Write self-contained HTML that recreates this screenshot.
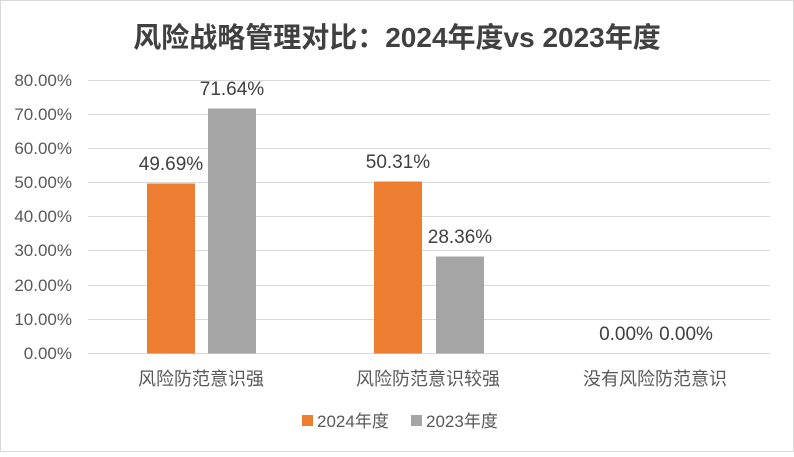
<!DOCTYPE html><html><head><meta charset="utf-8"><style>
body{margin:0;background:#fff}
svg text{font-family:"Liberation Sans","Noto Sans CJK SC",sans-serif;fill:#595959}
</style></head><body>
<svg width="794" height="452" xmlns="http://www.w3.org/2000/svg">
<rect x="0.5" y="0.5" width="793" height="451" fill="#fff" stroke="#d9d9d9"/>
<text x="397" y="47" text-anchor="middle" font-size="28" font-weight="bold" style="fill:#404040">风险战略管理对比：2024年度vs 2023年度</text>
<g stroke="#d9d9d9" stroke-width="1">
<line x1="88" x2="770" y1="80.5" y2="80.5"/><line x1="88" x2="770" y1="114.5" y2="114.5"/>
<line x1="88" x2="770" y1="148.5" y2="148.5"/><line x1="88" x2="770" y1="182.5" y2="182.5"/>
<line x1="88" x2="770" y1="216.5" y2="216.5"/><line x1="88" x2="770" y1="250.5" y2="250.5"/>
<line x1="88" x2="770" y1="285.5" y2="285.5"/><line x1="88" x2="770" y1="319.5" y2="319.5"/>
<line x1="88" x2="770" y1="353.5" y2="353.5"/></g>
<g font-size="17" text-anchor="end">
<text x="72" y="86">80.00%</text><text x="72" y="120">70.00%</text><text x="72" y="154">60.00%</text>
<text x="72" y="188">50.00%</text><text x="72" y="222">40.00%</text><text x="72" y="256">30.00%</text>
<text x="72" y="291">20.00%</text><text x="72" y="325">10.00%</text><text x="72" y="359">0.00%</text></g>
<rect x="147" y="183.5" width="48" height="170" fill="#ED7D31"/>
<rect x="208" y="108.5" width="48" height="245" fill="#A5A5A5"/>
<rect x="374" y="181.5" width="48" height="172" fill="#ED7D31"/>
<rect x="436" y="256.5" width="48" height="97" fill="#A5A5A5"/>
<g font-size="19" text-anchor="middle" style="fill:#404040">
<text x="171" y="170" style="fill:#404040">49.69%</text><text x="232" y="95" style="fill:#404040">71.64%</text>
<text x="398" y="168" style="fill:#404040">50.31%</text><text x="460" y="243" style="fill:#404040">28.36%</text>
<text x="626" y="340" style="fill:#404040">0.00%</text><text x="686" y="340" style="fill:#404040">0.00%</text></g>
<g font-size="18" text-anchor="middle">
<text x="201" y="385">风险防范意识强</text><text x="428" y="385">风险防范意识较强</text><text x="655" y="385">没有风险防范意识</text></g>
<rect x="302" y="415" width="11" height="11" fill="#ED7D31"/>
<text x="317" y="427" font-size="17">2024年度</text>
<rect x="411" y="415" width="11" height="11" fill="#A5A5A5"/>
<text x="426" y="427" font-size="17">2023年度</text>
</svg></body></html>
